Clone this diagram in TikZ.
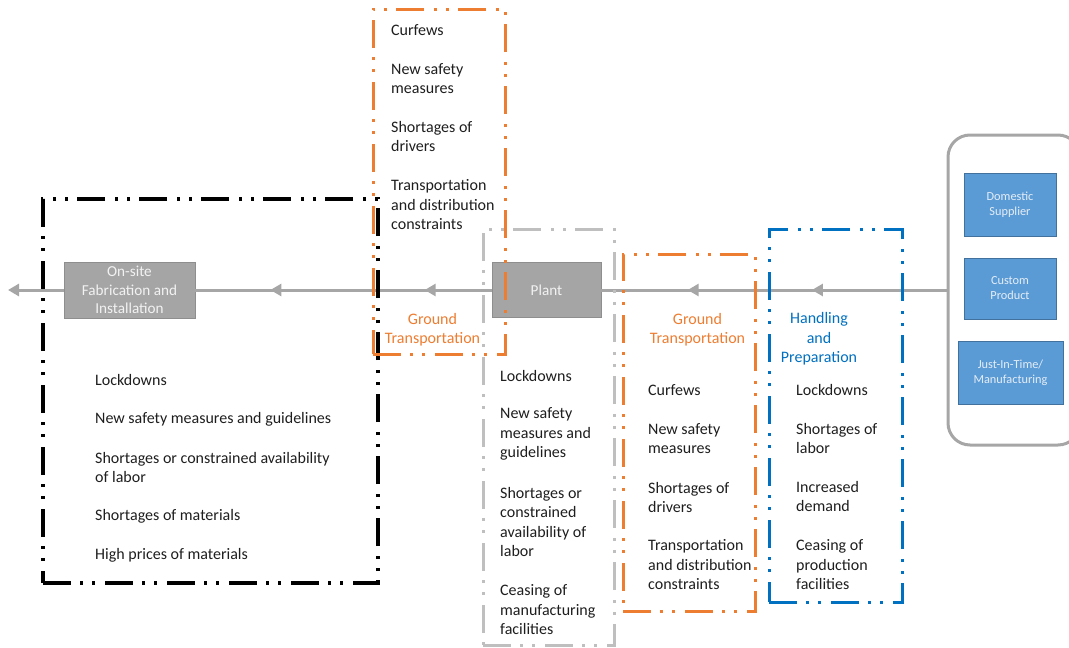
\documentclass[tikz,border=0pt]{standalone}
\usepackage{fontspec}
\setmainfont{Carlito}
\usetikzlibrary{arrows.meta,decorations.markings}
\definecolor{flowgray}{HTML}{A6A6A6}
\definecolor{stagefill}{HTML}{A5A5A5}
\definecolor{stageline}{HTML}{8E8E8E}
\definecolor{riskorange}{HTML}{ED7D31}
\definecolor{riskblue}{HTML}{0070C0}
\definecolor{framegray}{HTML}{BFBFBF}
\definecolor{supfill}{HTML}{5B9BD5}
\definecolor{supline}{HTML}{41719C}
\definecolor{suptext}{HTML}{E4EDF7}
\definecolor{itemtext}{HTML}{1E1E1E}
\tikzset{
  flowtip/.tip={Triangle[length=11pt,width=12pt]},
  frame/.style={draw, line width=3pt, inner sep=0pt,
    dash pattern=on 28pt off 9pt on 3pt off 9pt on 3pt off 10pt},
  item/.style={anchor=west, align=left, inner sep=0pt, text=itemtext,
    font=\fontsize{16}{19.5}\selectfont},
  header/.style={align=center, inner sep=0pt,
    font=\fontsize{16}{19.5}\selectfont},
  stage/.style={draw=stageline, fill=stagefill, line width=0.8pt, text=white!95!black,
    align=center, inner sep=0pt, font=\fontsize{15.2}{18.5}\selectfont},
  supplier/.style={draw=supline, fill=supfill, line width=1pt, text=suptext,
    align=center, inner sep=0pt, font=\fontsize{12.3}{15}\selectfont},
  flow/.style={draw=flowgray, line width=3pt}
}
\begin{document}
\begin{tikzpicture}[x=1pt,y=-1pt]
\useasboundingbox (0,0) rectangle (1069,648);

% supplier group
\node[draw=flowgray, line width=3pt, rounded corners=22pt,
  minimum width=132pt, minimum height=310pt] (group) at (1014,290) {};
\node[supplier, minimum width=92pt, minimum height=63pt] (domestic) at (1010,204.5) {Domestic\\Supplier};
\node[supplier, minimum width=92pt, minimum height=61pt] (custom) at (1010,288.5) {Custom\\Product};
\node[supplier, minimum width=105pt, minimum height=63pt] (jit) at (1010.5,372.5) {Just-In-Time/\\Manufacturing};

% stages along the flow
\node[stage, minimum width=109pt, minimum height=55pt] (plant) at (546.5,290) {Plant};
\node[stage, minimum width=131pt, minimum height=56pt] (onsite) at (129.5,290) {On-site\\Fabrication and\\Installation};
\coordinate (endpt) at (8,290);

% flow line
\path[flow, postaction={decorate, decoration={markings,
    mark=at position 0.39 with {\arrow[flowgray]{flowtip}},
    mark=at position 0.75 with {\arrow[flowgray]{flowtip}}}}]
  (group.west) -- (plant.east);
\path[flow, postaction={decorate, decoration={markings,
    mark=at position 0.226 with {\arrow[flowgray]{flowtip}},
    mark=at position 0.747 with {\arrow[flowgray]{flowtip}}}}]
  (plant.west) -- (onsite.east);
\draw[flow, -flowtip] (onsite.west) -- (endpt);

% risk frames
\node[frame, draw=black, line width=3.3pt, minimum width=335pt, minimum height=384pt] (siteframe) at (210.5,391) {};
\node[frame, draw=framegray, minimum width=131pt, minimum height=416pt] (plantframe) at (548.5,437) {};
\node[frame, draw=riskorange, minimum width=132pt, minimum height=345pt] (outbound) at (439,181.5) {};
\node[frame, draw=riskorange, minimum width=132pt, minimum height=357pt] (inbound) at (689,432.5) {};
\node[frame, draw=riskblue, minimum width=133pt, minimum height=373pt] (handling) at (835.5,415.5) {};

% outbound ground transportation
\node[item] (o1) at (391,30) {Curfews};
\node[item] (o2) at (391,78.5) {New safety\\measures};
\node[item] (o3) at (391,136.5) {Shortages of\\drivers};
\node[item] (o4) at (391,205) {Transportation\\and distribution\\constraints};
\node[header, text=riskorange] (oh) at (432.5,329.5) {Ground\\Transportation};

% on-site fabrication
\node[item] (s1) at (95,380) {Lockdowns};
\node[item] (s2) at (95,419) {New safety measures and guidelines};
\node[item] (s3) at (95,467.5) {Shortages or constrained availability\\of labor};
\node[item] (s4) at (95,516) {Shortages of materials};
\node[item] (s5) at (95,555) {High prices of materials};

% plant
\node[item] (p1) at (500,376) {Lockdowns};
\node[item] (p2) at (500,434) {New safety\\measures and\\guidelines};
\node[item] (p3) at (500,522) {Shortages or\\constrained\\availability of\\labor};
\node[item] (p4) at (500,610) {Ceasing of\\manufacturing\\facilities};

% inbound ground transportation
\node[header, text=riskorange] (ih) at (697.5,329.5) {Ground\\Transportation};
\node[item] (i1) at (648,390) {Curfews};
\node[item] (i2) at (648,438.5) {New safety\\measures};
\node[item] (i3) at (648,497.5) {Shortages of\\drivers};
\node[item] (i4) at (648,565) {Transportation\\and distribution\\constraints};

% handling and preparation
\node[header, text=riskblue] (hh) at (819,339) {Handling\\and\\Preparation};
\node[item] (h1) at (796,390) {Lockdowns};
\node[item] (h2) at (796,438.5) {Shortages of\\labor};
\node[item] (h3) at (796,496.5) {Increased\\demand};
\node[item] (h4) at (796,565) {Ceasing of\\production\\facilities};
\end{tikzpicture}
\end{document}
